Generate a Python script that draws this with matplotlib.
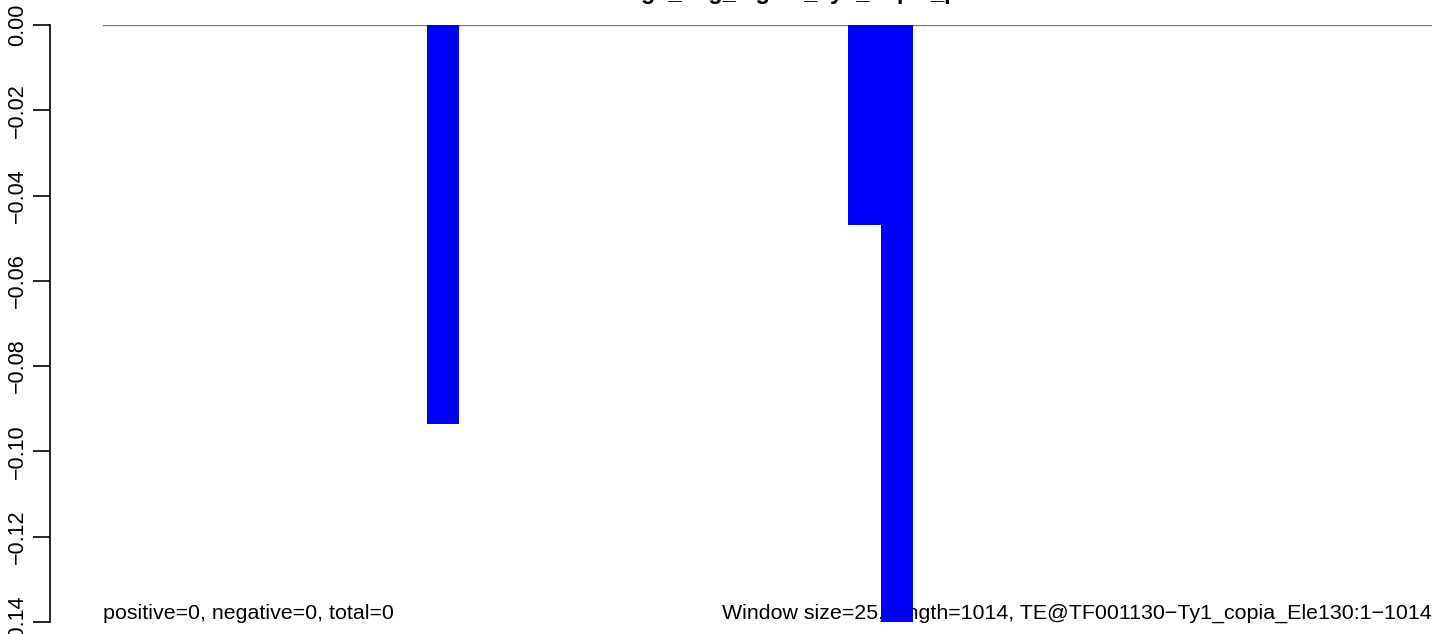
import matplotlib
matplotlib.use("Agg")
import matplotlib.pyplot as plt

plt.rcParams["font.family"] = ["Liberation Sans", "DejaVu Sans"]

# one bar per window (41 windows of 25 over length 1014)
valores = [0.0] * 41
valores[10] = -0.0935
valores[23] = -0.0469
valores[24] = -0.1450

yticks = [0.00, -0.02, -0.04, -0.06, -0.08, -0.10, -0.12, -0.14]
titulo = "log2_avg_signal_Ty1_copia_p"
texto_esq = "positive=0, negative=0, total=0"
texto_dir = "Window size=25, length=1014, TE@TF001130\u2212Ty1_copia_Ele130:1\u22121014"

W, H = 1444, 634
fig = plt.figure(figsize=(W / 100, H / 100), dpi=100)
ax = fig.add_axes([50 / W, (H - 622) / H, (W - 50) / W, 597 / H])

n = len(valores)
ax.bar(range(n), valores, width=1.0, align="edge", color="blue", linewidth=0, zorder=3)
ax.plot([0, n], [0, 0], color="#808080", linewidth=1, zorder=2)

ax.set_xlim(-53 / 32.4, (W - 103) / 32.4)
ax.set_ylim(-0.14, 0)

for s in ["top", "right", "bottom"]:
    ax.spines[s].set_visible(False)
ax.spines["left"].set_linewidth(1.2)
ax.set_xticks([])
ax.set_yticks(yticks)
ax.set_yticklabels([f"{v:.2f}".replace("-", "\u2212") for v in yticks],
                   rotation=90, va="center", fontsize=15.5)
ax.tick_params(axis="y", length=12, width=1.2, pad=4)

ax.text(0, -0.1393, texto_esq, ha="left", va="baseline", fontsize=15.4, zorder=1)
ax.text(n, -0.1393, texto_dir, ha="right", va="baseline", fontsize=15.4, zorder=1)

# title sits mostly above the top edge, as in the original
fig.text(790 / W, 1 + 1 / H, titulo, ha="center", va="baseline",
         fontsize=17, fontweight="bold")

fig.savefig("out.png", dpi=100)
